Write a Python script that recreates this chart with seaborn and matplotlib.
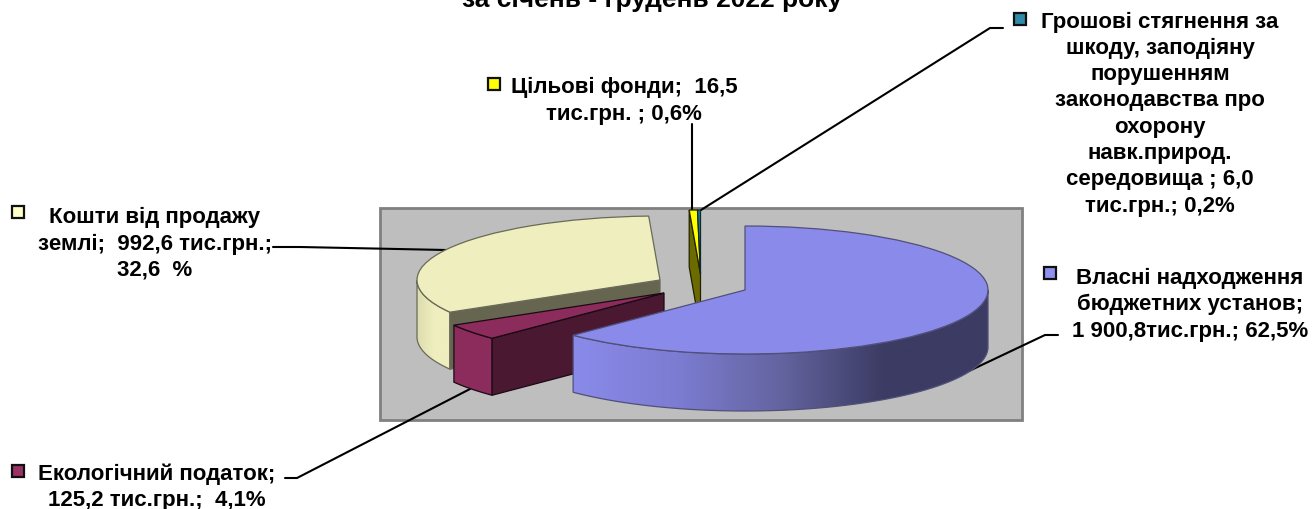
import matplotlib
matplotlib.use("Agg")
import matplotlib.pyplot as plt
import numpy as np
import seaborn as sns

# slices, clockwise from 12 o'clock
values = [1900.8, 125.2, 992.6, 16.5, 6.0]
topColors = ["#8a8aea", "#8b2c5c", "#eeeebe", "#ffff00", "#1e7a90"]
keyColors = ["#9090f0", "#993366", "#ffffcc", "#ffff00", "#2f8ba8"]

labels = [
    "Власні надходження\nбюджетних установ;\n1 900,8тис.грн.; 62,5%",
    "Екологічний податок;\n125,2 тис.грн.;  4,1%",
    "Кошти від продажу\nземлі;  992,6 тис.грн.;\n32,6  %",
    "Цільові фонди;  16,5\nтис.грн. ; 0,6%",
    "Грошові стягнення за\nшкоду, заподіяну\nпорушенням\nзаконодавства про\nохорону\nнавк.природ.\nсередовища ; 6,0\nтис.грн.; 0,2%",
]
title = "за січень - грудень 2022 року"

# pixel layout of the picture
W, H = 1312, 510
rx, ry, depth = 243.0, 64.0, 57.0
centers = [(745, 291), (664, 294), (660, 281), (700.5, 275), (700.5, 275)]
edgeColors = ["#50507a", "#1a0a14", "#6a6a58", "#222200", "#102830"]
wallColors = [None, "#8b2c5c", None, "#6b6b00", None]
cutColors = [None, "#4a1830", "#666650", "#6b6b00", None]
sliceOrder = {2: 1, 3: 2, 4: 2.5, 1: 3, 0: 4}

labelPos = [(1190, 304.5), (157, 487), (155, 244), (624, 101), (1160, 114)]
keyPos = [(1050, 274), (18, 472), (18, 213), (494, 85), (1020, 20)]
leaders = [
    [(1058, 336), (1045, 336), (969, 372)],
    [(285, 479), (297, 479), (470, 390)],
    [(273, 248), (300, 248), (446, 251)],
    [(692, 125), (692, 211)],
    [(1003, 29), (990, 29), (701, 211)],
]

sns.set_theme(style="white")
plt.rcParams["font.family"] = ["Liberation Sans", "DejaVu Sans"]

fig = plt.figure(figsize=(W / 100, H / 100), dpi=100)
ax = fig.add_axes([0, 0, 1, 1])
ax.set_xlim(0, W)
ax.set_ylim(H, 0)
ax.axis("off")

ax.add_patch(plt.Rectangle((380, 209), 642, 212, facecolor="#bebebe", edgecolor="#808080", linewidth=2))

for pts in leaders:
    ax.plot([p[0] for p in pts], [p[1] for p in pts], color="black", lw=1.5, solid_joinstyle="miter")

for (x, y), c in zip(keyPos, keyColors):
    ax.plot([x], [y], marker="s", ms=8.6, mfc=c, mec="#101010", mew=1.6, ls="none")

for (x, y), t in zip(labelPos, labels):
    ax.text(x, y, t, ha="center", va="center", fontsize=16, fontweight="bold", color="black", linespacing=1.33)

ax.text(652, 7.5, title, ha="center", va="baseline", fontsize=19, fontweight="bold", color="black")

# pie lives in its own axes, one data unit = one radius
pieAx = fig.add_axes([0, 0, 1, 1], zorder=2)
pieAx.patch.set_alpha(0)
wedges, _ = pieAx.pie(values, startangle=90, counterclock=False, frame=True, colors=topColors)
pieAx.set_aspect("auto")
pieAx.axis("off")


def toUnits(x, y):
    return (x - 745) / rx, (291 - y) / ry


d = depth / ry
for i, w in enumerate(wedges):
    cx, cy = toUnits(*centers[i])
    z = sliceOrder[i]
    w.set_center((cx, cy))
    w.set_edgecolor(edgeColors[i])
    w.set_linewidth(0.9)
    w.set_zorder(z + 0.5)

    # side wall, only the front part of the rim shows
    t = np.radians(np.linspace(w.theta1, w.theta2, 300))
    t = t[np.sin(t) <= 0]
    if len(t) > 1:
        xs = cx + np.cos(t)
        ys = cy + np.sin(t)
        wx = np.r_[xs, xs[::-1]]
        wy = np.r_[ys, ys[::-1] - d]
        if i == 0:
            poly = pieAx.fill(wx, wy, facecolor="none", edgecolor=edgeColors[i], lw=0.9, zorder=z + 0.2)[0]
            cmap = sns.blend_palette(["#8a8aea", "#7c7cd2", "#6464a0", "#3b3b63", "#3b3b63"], as_cmap=True)
            im = pieAx.imshow(np.linspace(0, 1, 256)[None, :], cmap=cmap, aspect="auto",
                              extent=(xs.min(), xs.max(), ys.min() - d, ys.max()), zorder=z + 0.1)
            im.set_clip_path(poly)
        elif i == 2:
            poly = pieAx.fill(wx, wy, facecolor="none", edgecolor="#6a6a58", lw=0.9, zorder=z + 0.2)[0]
            cmap = sns.blend_palette(["#dcdcb0", "#eeeebe", "#eeeebe"], as_cmap=True)
            im = pieAx.imshow(np.linspace(0, 1, 64)[None, :], cmap=cmap, aspect="auto",
                              extent=(xs.min(), xs.max(), ys.min() - d, ys.max()), zorder=z + 0.1)
            im.set_clip_path(poly)
        elif wallColors[i] is not None:
            pieAx.fill(wx, wy, facecolor=wallColors[i], edgecolor=edgeColors[i], lw=0.9, zorder=z + 0.1)

    # cut face along the slice edge
    if cutColors[i] is not None:
        a = np.radians(w.theta2)
        ex, ey = cx + np.cos(a), cy + np.sin(a)
        pieAx.fill([cx, ex, ex, cx], [cy, ey, ey - d, cy - d], facecolor=cutColors[i],
                   edgecolor=edgeColors[i], lw=0.9, zorder=z + 0.3)

pieAx.set_xlim(toUnits(0, 0)[0], toUnits(W, 0)[0])
pieAx.set_ylim(toUnits(0, H)[1], toUnits(0, 0)[1])

fig.savefig("out.png", dpi=100, facecolor="white")
